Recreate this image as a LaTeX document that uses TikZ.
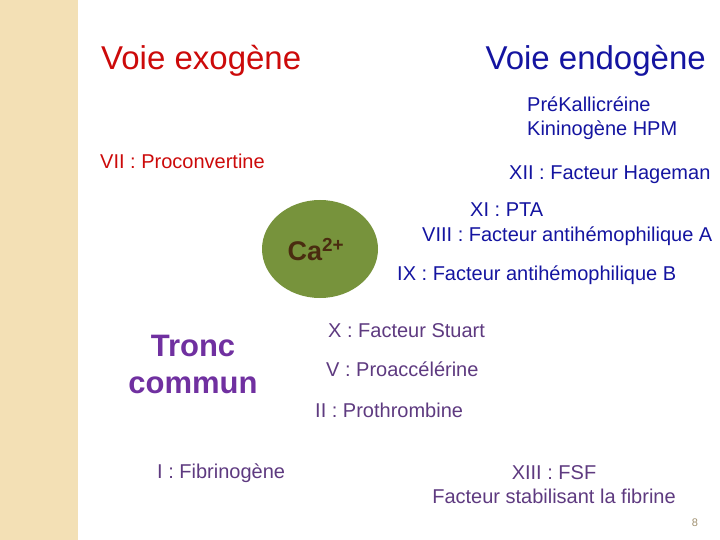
\documentclass[tikz,border=0pt]{standalone}
\usepackage{fontspec}
\setmainfont{Liberation Sans}
\usetikzlibrary{shapes.geometric}
\definecolor{stripbeige}{HTML}{F3E0B5}
\definecolor{exored}{HTML}{CC0A0A}
\definecolor{endoblue}{HTML}{1414A0}
\definecolor{troncpurple}{HTML}{7030A0}
\definecolor{factpurple}{HTML}{5E3A80}
\definecolor{caolive}{HTML}{77933C}
\definecolor{cabrown}{HTML}{4A2C10}
\definecolor{pagetan}{HTML}{A09070}
\begin{document}
\begin{tikzpicture}[x=1pt,y=-1pt,
		title/.style={font=\fontsize{33}{38}\selectfont, inner sep=0pt},
		factor/.style={font=\fontsize{20}{24}\selectfont, inner sep=0pt}]
		\useasboundingbox (0,0) rectangle (720,540);
		\fill[stripbeige] (0,0) rectangle (78,540);
		% titles
		\node[title,anchor=west,text=exored] (exo) at (101,61) {Voie exogène};
		\node[title,anchor=east,text=endoblue] (endo) at (706,61) {Voie endogène};
		% voie endogene
		\node[factor,anchor=west,text=endoblue,align=left] (prek) at (527,118) {PréKallicréine\\Kininogène HPM};
		\node[factor,anchor=west,text=exored] (vii) at (100,161) {VII : Proconvertine};
		\node[factor,anchor=west,text=endoblue] (xii) at (509,175) {XII : Facteur Hageman};
		\node[factor,anchor=west,text=endoblue] (xi) at (470,210) {XI : PTA};
		\node[factor,anchor=west,text=endoblue] (viii) at (422,236) {VIII : Facteur antihémophilique A};
		\node[factor,anchor=west,text=endoblue] (ix) at (397,275) {IX : Facteur antihémophilique B};
		% calcium
		\node[ellipse,fill=caolive,minimum width=116,minimum height=98,inner sep=0pt] (ca) at (320,249) {};
		\node[font=\fontsize{27}{30}\selectfont\bfseries,text=cabrown,inner sep=0pt] (catext) at (316,250) {Ca\textsuperscript{2+}};
		% tronc commun
		\node[font=\fontsize{31}{37}\selectfont\bfseries,text=troncpurple,align=center,inner sep=0pt] (tronc) at (193,364) {Tronc\\commun};
		\node[factor,anchor=west,text=factpurple] (x) at (328,331) {X : Facteur Stuart};
		\node[factor,anchor=west,text=factpurple] (v) at (326,369) {V : Proaccélérine};
		\node[factor,anchor=west,text=factpurple] (ii) at (315,410) {II : Prothrombine};
		\node[factor,anchor=west,text=factpurple] (i) at (157,473) {I : Fibrinogène};
		\node[factor,text=factpurple,align=center] (xiii) at (554,485) {XIII : FSF\\Facteur stabilisant la fibrine};
		\node[font=\fontsize{11}{13}\selectfont,text=pagetan,inner sep=0pt] (page) at (695,523) {8};
\end{tikzpicture}
\end{document}
